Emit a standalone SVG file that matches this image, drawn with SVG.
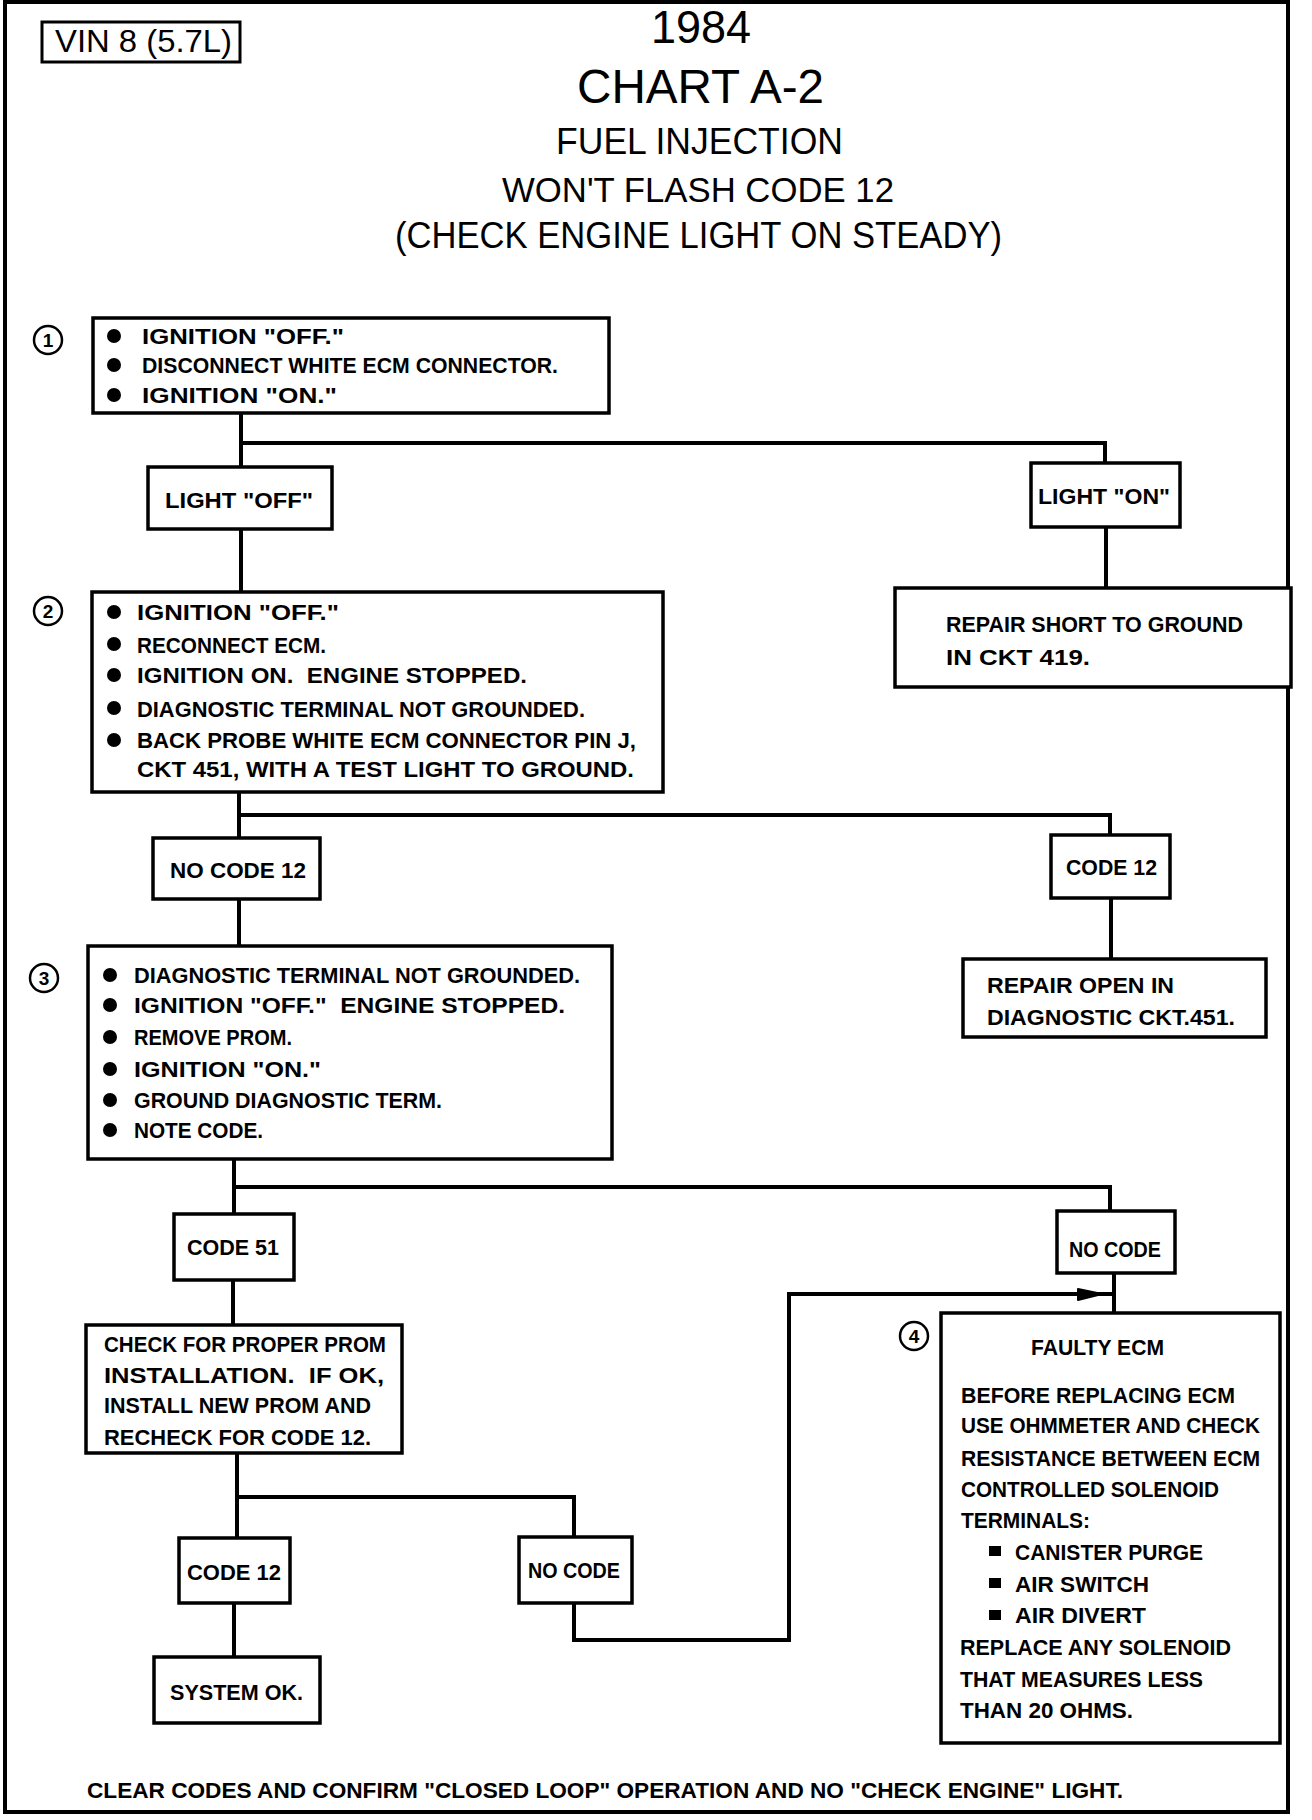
<svg xmlns="http://www.w3.org/2000/svg" width="1312" height="1820" viewBox="0 0 1312 1820">
<style>
  .bx { fill: #fff; stroke: #000; stroke-width: 3.5; }
  .ln { fill: none; stroke: #000; stroke-width: 4; stroke-linejoin: miter; stroke-linecap: square; }
  .t { font-family: "Liberation Sans", Arial, sans-serif; font-weight: bold; font-size: 22px; fill: #000; }
  .h { font-family: "Liberation Sans", Arial, sans-serif; font-weight: normal; fill: #000; }
  .num { font-family: "Liberation Sans", Arial, sans-serif; font-weight: bold; font-size: 19px; fill: #000; text-anchor: middle; }
  .circ { fill: #fff; stroke: #000; stroke-width: 2.5; }
</style>
<rect x="0" y="0" width="1312" height="1820" fill="#fff"/>
<rect id="frame" x="5" y="2" width="1283" height="1810" fill="none" stroke="#000" stroke-width="4"/>

<g id="title">
  <text class="h" x="651" y="43" font-size="46" textLength="100" lengthAdjust="spacingAndGlyphs">1984</text>
  <text class="h" x="577" y="103" font-size="48" textLength="247" lengthAdjust="spacingAndGlyphs">CHART A-2</text>
  <text class="h" x="556" y="154" font-size="37" textLength="287" lengthAdjust="spacingAndGlyphs">FUEL INJECTION</text>
  <text class="h" x="502" y="202" font-size="35" textLength="392" lengthAdjust="spacingAndGlyphs">WON'T FLASH CODE 12</text>
  <text class="h" x="395" y="248" font-size="36" textLength="607" lengthAdjust="spacingAndGlyphs">(CHECK ENGINE LIGHT ON STEADY)</text>
</g>

<g id="vin">
  <rect x="42" y="22" width="198" height="40" fill="#fff" stroke="#000" stroke-width="3"/>
  <text class="h" x="55" y="52" font-size="32" textLength="177" lengthAdjust="spacingAndGlyphs">VIN 8 (5.7L)</text>
</g>

<g id="connectors">
  <path class="ln" d="M241 413 V467 M241 443 H1105 V463"/>
  <path class="ln" d="M241 529 V592"/>
  <path class="ln" d="M1106 527 V588"/>
  <path class="ln" d="M239 792 V838 M239 815 H1110 V835"/>
  <path class="ln" d="M1111 898 V959"/>
  <path class="ln" d="M239 899 V946"/>
  <path class="ln" d="M234 1159 V1214 M234 1187 H1110 V1211"/>
  <path class="ln" d="M233 1280 V1325"/>
  <path class="ln" d="M1114 1273 V1313"/>
  <path class="ln" d="M237 1453 V1537 M237 1497 H574 V1537"/>
  <path class="ln" d="M234 1603 V1657"/>
  <path class="ln" d="M574 1603 V1640 H789 V1294 H1114"/>
  <polygon points="1078,1289 1102,1294 1078,1300" fill="#000" stroke="#000" stroke-width="2" stroke-linejoin="round"/>
</g>

<g id="step1">
  <circle class="circ" cx="48" cy="340" r="14"/>
  <text class="num" x="48" y="347">1</text>
  <rect class="bx" x="93" y="318" width="516" height="95"/>
  <circle cx="114" cy="336" r="7"/>
  <circle cx="114" cy="365" r="7"/>
  <circle cx="114" cy="395" r="7"/>
  <text class="t" x="142" y="344" textLength="202" lengthAdjust="spacingAndGlyphs">IGNITION "OFF."</text>
  <text class="t" x="142" y="373" textLength="416" lengthAdjust="spacingAndGlyphs">DISCONNECT WHITE ECM CONNECTOR.</text>
  <text class="t" x="142" y="403" textLength="195" lengthAdjust="spacingAndGlyphs">IGNITION "ON."</text>
</g>

<g id="light-off">
  <rect class="bx" x="148" y="467" width="184" height="62"/>
  <text class="t" x="165" y="508" textLength="148" lengthAdjust="spacingAndGlyphs">LIGHT "OFF"</text>
</g>

<g id="light-on">
  <rect class="bx" x="1031" y="463" width="149" height="64"/>
  <text class="t" x="1038" y="504" textLength="132" lengthAdjust="spacingAndGlyphs">LIGHT "ON"</text>
</g>

<g id="repair-short">
  <rect class="bx" x="895" y="588" width="396" height="99"/>
  <text class="t" x="946" y="632" textLength="297" lengthAdjust="spacingAndGlyphs">REPAIR SHORT TO GROUND</text>
  <text class="t" x="946" y="665" textLength="144" lengthAdjust="spacingAndGlyphs">IN CKT 419.</text>
</g>

<g id="step2">
  <circle class="circ" cx="48" cy="611" r="14"/>
  <text class="num" x="48" y="618">2</text>
  <rect class="bx" x="92" y="592" width="571" height="200"/>
  <circle cx="114" cy="612" r="7"/>
  <circle cx="114" cy="644" r="7"/>
  <circle cx="114" cy="675" r="7"/>
  <circle cx="114" cy="708" r="7"/>
  <circle cx="114" cy="740" r="7"/>
  <text class="t" x="137" y="620" textLength="202" lengthAdjust="spacingAndGlyphs">IGNITION "OFF."</text>
  <text class="t" x="137" y="653" textLength="189" lengthAdjust="spacingAndGlyphs">RECONNECT ECM.</text>
  <text class="t" x="137" y="683" textLength="390" lengthAdjust="spacingAndGlyphs" xml:space="preserve">IGNITION ON.  ENGINE STOPPED.</text>
  <text class="t" x="137" y="717" textLength="448" lengthAdjust="spacingAndGlyphs">DIAGNOSTIC TERMINAL NOT GROUNDED.</text>
  <text class="t" x="137" y="748" textLength="499" lengthAdjust="spacingAndGlyphs">BACK PROBE WHITE ECM CONNECTOR PIN J,</text>
  <text class="t" x="137" y="777" textLength="497" lengthAdjust="spacingAndGlyphs">CKT 451, WITH A TEST LIGHT TO GROUND.</text>
</g>

<g id="no-code-12">
  <rect class="bx" x="153" y="838" width="167" height="61"/>
  <text class="t" x="170" y="878" textLength="136" lengthAdjust="spacingAndGlyphs">NO CODE 12</text>
</g>

<g id="code-12-a">
  <rect class="bx" x="1051" y="835" width="119" height="63"/>
  <text class="t" x="1066" y="875" textLength="91" lengthAdjust="spacingAndGlyphs">CODE 12</text>
</g>

<g id="repair-open">
  <rect class="bx" x="963" y="959" width="303" height="78"/>
  <text class="t" x="987" y="993" textLength="187" lengthAdjust="spacingAndGlyphs">REPAIR OPEN IN</text>
  <text class="t" x="987" y="1025" textLength="248" lengthAdjust="spacingAndGlyphs">DIAGNOSTIC CKT.451.</text>
</g>

<g id="step3">
  <circle class="circ" cx="44" cy="978" r="14"/>
  <text class="num" x="44" y="985">3</text>
  <rect class="bx" x="88" y="946" width="524" height="213"/>
  <circle cx="110" cy="975" r="7"/>
  <circle cx="110" cy="1005" r="7"/>
  <circle cx="110" cy="1037" r="7"/>
  <circle cx="110" cy="1069" r="7"/>
  <circle cx="110" cy="1100" r="7"/>
  <circle cx="110" cy="1130" r="7"/>
  <text class="t" x="134" y="983" textLength="446" lengthAdjust="spacingAndGlyphs">DIAGNOSTIC TERMINAL NOT GROUNDED.</text>
  <text class="t" x="134" y="1013" textLength="431" lengthAdjust="spacingAndGlyphs" xml:space="preserve">IGNITION "OFF."  ENGINE STOPPED.</text>
  <text class="t" x="134" y="1045" textLength="158" lengthAdjust="spacingAndGlyphs">REMOVE PROM.</text>
  <text class="t" x="134" y="1077" textLength="187" lengthAdjust="spacingAndGlyphs">IGNITION "ON."</text>
  <text class="t" x="134" y="1108" textLength="308" lengthAdjust="spacingAndGlyphs">GROUND DIAGNOSTIC TERM.</text>
  <text class="t" x="134" y="1138" textLength="129" lengthAdjust="spacingAndGlyphs">NOTE CODE.</text>
</g>

<g id="code-51">
  <rect class="bx" x="174" y="1214" width="120" height="66"/>
  <text class="t" x="187" y="1255" textLength="92" lengthAdjust="spacingAndGlyphs">CODE 51</text>
</g>

<g id="no-code-a">
  <rect class="bx" x="1057" y="1211" width="118" height="62"/>
  <text class="t" x="1069" y="1257" textLength="92" lengthAdjust="spacingAndGlyphs">NO CODE</text>
</g>

<g id="check-prom">
  <rect class="bx" x="86" y="1325" width="316" height="128"/>
  <text class="t" x="104" y="1352" textLength="282" lengthAdjust="spacingAndGlyphs">CHECK FOR PROPER PROM</text>
  <text class="t" x="104" y="1383" textLength="280" lengthAdjust="spacingAndGlyphs" xml:space="preserve">INSTALLATION.  IF OK,</text>
  <text class="t" x="104" y="1413" textLength="267" lengthAdjust="spacingAndGlyphs">INSTALL NEW PROM AND</text>
  <text class="t" x="104" y="1445" textLength="267" lengthAdjust="spacingAndGlyphs">RECHECK FOR CODE 12.</text>
</g>

<g id="code-12-b">
  <rect class="bx" x="179" y="1538" width="111" height="65"/>
  <text class="t" x="187" y="1580" textLength="94" lengthAdjust="spacingAndGlyphs">CODE 12</text>
</g>

<g id="no-code-b">
  <rect class="bx" x="519" y="1537" width="113" height="66"/>
  <text class="t" x="528" y="1578" textLength="92" lengthAdjust="spacingAndGlyphs">NO CODE</text>
</g>

<g id="system-ok">
  <rect class="bx" x="154" y="1657" width="166" height="66"/>
  <text class="t" x="170" y="1700" textLength="133" lengthAdjust="spacingAndGlyphs">SYSTEM OK.</text>
</g>

<g id="step4">
  <circle class="circ" cx="914" cy="1336" r="14"/>
  <text class="num" x="914" y="1343">4</text>
  <rect class="bx" x="941" y="1313" width="339" height="430"/>
  <text class="t" x="1031" y="1355" textLength="133" lengthAdjust="spacingAndGlyphs">FAULTY ECM</text>
  <text class="t" x="961" y="1403" textLength="274" lengthAdjust="spacingAndGlyphs">BEFORE REPLACING ECM</text>
  <text class="t" x="961" y="1433" textLength="299" lengthAdjust="spacingAndGlyphs">USE OHMMETER AND CHECK</text>
  <text class="t" x="961" y="1466" textLength="299" lengthAdjust="spacingAndGlyphs">RESISTANCE BETWEEN ECM</text>
  <text class="t" x="961" y="1497" textLength="258" lengthAdjust="spacingAndGlyphs">CONTROLLED SOLENOID</text>
  <text class="t" x="961" y="1528" textLength="129" lengthAdjust="spacingAndGlyphs">TERMINALS:</text>
  <rect x="989" y="1546" width="12" height="10"/>
  <rect x="989" y="1578" width="12" height="10"/>
  <rect x="989" y="1610" width="12" height="10"/>
  <text class="t" x="1015" y="1560" textLength="188" lengthAdjust="spacingAndGlyphs">CANISTER PURGE</text>
  <text class="t" x="1015" y="1592" textLength="134" lengthAdjust="spacingAndGlyphs">AIR SWITCH</text>
  <text class="t" x="1015" y="1623" textLength="131" lengthAdjust="spacingAndGlyphs">AIR DIVERT</text>
  <text class="t" x="960" y="1655" textLength="271" lengthAdjust="spacingAndGlyphs">REPLACE ANY SOLENOID</text>
  <text class="t" x="960" y="1687" textLength="243" lengthAdjust="spacingAndGlyphs">THAT MEASURES LESS</text>
  <text class="t" x="960" y="1718" textLength="173" lengthAdjust="spacingAndGlyphs">THAN 20 OHMS.</text>
</g>

<g id="footer">
  <text class="t" x="87" y="1798" textLength="1036" lengthAdjust="spacingAndGlyphs">CLEAR CODES AND CONFIRM "CLOSED LOOP" OPERATION AND NO "CHECK ENGINE" LIGHT.</text>
</g>
</svg>
